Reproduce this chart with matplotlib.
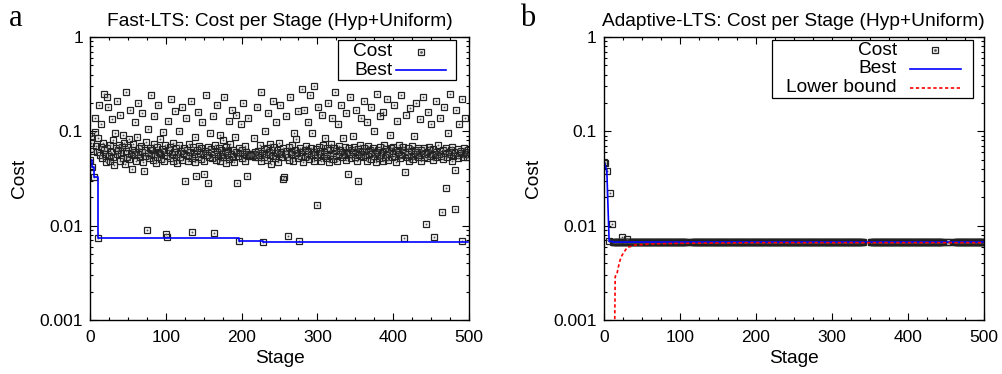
import numpy as np
import matplotlib.pyplot as plt
from matplotlib.patches import Rectangle
from matplotlib.ticker import FixedLocator, LogLocator, NullFormatter, FuncFormatter

plt.rcParams['font.family'] = ['Liberation Sans', 'DejaVu Sans']

# costo per stadio (Fast-LTS), in unita di 1e-3
cost_a_milli = [
    50, 90, 75, 42, 62, 33, 98, 140, 70, 60, 85, 7.4, 190, 56, 68, 120, 52, 75, 250, 64,
    58, 47, 230, 66, 180, 55, 72, 49, 61, 135, 80, 53, 44, 95, 67, 210, 57, 63, 71, 48,
    150, 59, 68, 52, 92, 76, 45, 62, 260, 54, 69, 83, 51, 170, 58, 64, 40, 73, 56, 125,
    61, 49, 88, 57, 200, 66, 53, 70, 60, 155, 47, 38, 64, 55, 78, 9.1, 59, 105, 52, 67,
    240, 56, 63, 50, 74, 145, 58, 46, 69, 54, 190, 61, 57, 82, 51, 65, 98, 60, 48, 72,
    8.1, 7.5, 55, 130, 63, 52, 68, 220, 57, 49, 75, 60, 165, 54, 66, 46, 58, 100, 71, 53,
    62, 180, 50, 59, 67, 30, 56, 140, 64, 48, 73, 55, 61, 210, 8.6, 52, 69, 58, 88, 47,
    34, 63, 54, 160, 70, 57, 51, 66, 125, 59, 35, 48, 62, 240, 56, 28, 68, 53, 95, 60,
    65, 52, 145, 8.4, 58, 72, 50, 61, 190, 55, 67, 49, 92, 63, 57, 80, 54, 230, 60, 46,
    69, 56, 62, 130, 51, 74, 58, 170, 53, 64, 47, 88, 60, 150, 28, 55, 66, 6.8, 59, 120,
    52, 63, 200, 57, 70, 49, 61, 34, 55, 140, 58, 56, 57, 55, 58, 56, 85, 54, 60, 57,
    180, 53, 62, 56, 71, 48, 260, 59, 6.7, 65, 54, 100, 58, 67, 50, 155, 61, 56, 73, 45,
    63, 210, 55, 68, 52, 125, 59, 64, 47, 76, 57, 190, 60, 53, 66, 31, 33, 58, 145, 62,
    54, 7.8, 69, 50, 230, 61, 57, 72, 48, 95, 63, 56, 82, 59, 165, 52, 6.9, 66, 55, 280,
    60, 47, 170, 64, 53, 70, 58, 125, 62, 51, 240, 67, 56, 95, 61, 49, 300, 58, 65, 16.5,
    54, 180, 68, 57, 62, 48, 150, 71, 55, 60, 86, 52, 66, 58, 200, 47, 63, 56, 73, 140,
    59, 51, 67, 260, 55, 62, 48, 120, 70, 57, 64, 190, 53, 60, 85, 56, 68, 50, 155, 61,
    35, 58, 66, 230, 52, 63, 57, 90, 69, 54, 61, 170, 49, 65, 29.6, 58, 72, 55, 140, 60,
    53, 67, 210, 56, 62, 48, 125, 70, 58, 64, 51, 180, 59, 66, 55, 100, 61, 47, 250, 57,
    63, 52, 68, 145, 56, 60, 49, 160, 71, 54, 65, 58, 220, 50, 62, 57, 92, 66, 53, 69,
    59, 190, 55, 64, 47, 130, 61, 57, 72, 52, 240, 63, 56, 68, 7.4, 37, 60, 150, 54, 66,
    58, 49, 175, 62, 55, 70, 51, 89, 64, 57, 200, 60, 53, 67, 56, 135, 48, 63, 59, 230,
    54, 66, 57, 10.5, 61, 52, 160, 68, 55, 63, 120, 58, 50, 65, 7.6, 56, 210, 60, 53, 71,
    57, 62, 140, 55, 14, 64, 51, 180, 59, 66, 25, 53, 96, 60, 57, 250, 63, 48, 68, 55,
    61, 39, 15, 170, 56, 65, 52, 120, 59, 62, 220, 6.9, 54, 67, 57, 140, 60, 53, 64, 58,
]
stage_a = np.arange(len(cost_a_milli))
cost_a = np.array(cost_a_milli) / 1000.0

# Adaptive-LTS: primi stadi, poi plateau (con buchi)
head_stage_b = [0, 1, 4, 7, 8, 11, 24, 30]
head_cost_b_milli = [47, 46, 38, 6.8, 22, 10.5, 7.5, 7.3]
plateau_segments = [(12, 109), (115, 341), (351, 446), (452, 454), (461, 500)]
plateau_cost_milli = 6.7

# lower bound
lb_stage = [14, 15, 17, 19, 21, 23, 25, 27, 29, 31, 35, 40, 50, 60, 80, 100, 150, 200, 300, 400, 500]
lb_milli = [0.5, 2.9, 3.0, 3.6, 4.2, 4.7, 5.0, 5.3, 5.6, 5.9, 6.0, 6.2, 6.3, 6.4, 6.45, 6.5, 6.55, 6.6, 6.6, 6.6, 6.6]

pts = {}
for s, c in zip(head_stage_b, head_cost_b_milli):
    pts[s] = c
for a, b in plateau_segments:
    for s in range(a, b + 1):
        if s not in pts:
            pts[s] = plateau_cost_milli
stage_b = np.array(sorted(pts))
cost_b = np.array([pts[s] for s in stage_b]) / 1000.0

best_a = np.minimum.accumulate(cost_a)
best_b = np.minimum.accumulate(cost_b)

FS = 12.5   # numeri sugli assi
FT = 13.8   # titoli, etichette, legenda
MS = 4.6
fig = plt.figure(figsize=(10.03, 3.74), dpi=100)
ax1 = fig.add_axes([0.0897, 0.1444, 0.378, 0.7567])
ax2 = fig.add_axes([0.602, 0.1444, 0.379, 0.7567])


def points(ax, x, y, **kw):
    ax.plot(x, y, ls='none', marker='s', ms=MS, mfc='none', mec='#222222', mew=0.9, **kw)
    ax.plot(x, y, ls='none', marker='s', ms=0.9, mfc='#555555', mec='#555555', mew=0.3)


def style(ax, title):
    ax.set_yscale('log')
    ax.set_xlim(0, 500)
    ax.set_ylim(0.001, 1)
    ax.xaxis.set_major_locator(FixedLocator([0, 100, 200, 300, 400, 500]))
    ax.xaxis.set_minor_locator(FixedLocator(np.arange(0, 501, 25)))
    ax.yaxis.set_major_locator(LogLocator(base=10, numticks=10))
    ax.yaxis.set_minor_locator(LogLocator(base=10, subs=np.arange(2, 10), numticks=20))
    ax.yaxis.set_minor_formatter(NullFormatter())
    ax.yaxis.set_major_formatter(FuncFormatter(lambda v, p: '%g' % v))
    ax.tick_params(which='both', direction='in', top=True, right=True, labelsize=FS, width=0.8)
    ax.tick_params(which='major', length=5, pad=5)
    ax.tick_params(axis='x', which='major', pad=7)
    ax.tick_params(which='minor', length=2.5)
    for sp in ax.spines.values():
        sp.set_linewidth(1.0)
    ax.set_xlabel('Stage', fontsize=FT, labelpad=4)
    ax.set_ylabel('Cost', fontsize=FT, labelpad=8)
    ax.set_title(title, fontsize=FT, pad=8)


def legend(ax, box, text_x, rows, line_x, marker_x):
    x0, y0, x1, y1 = box
    ax.add_patch(Rectangle((x0, y0), x1 - x0, y1 - y0, transform=ax.transAxes,
                           fill=True, fc='white', ec='black', lw=0.9, zorder=5))
    for (label, kind), yy in rows:
        ax.text(text_x, yy, label, transform=ax.transAxes, ha='right', va='center',
                fontsize=FT, zorder=6)
        if kind == 'pt':
            ax.plot([marker_x], [yy], transform=ax.transAxes, marker='s', ms=MS, mfc='none',
                    mec='#222222', mew=0.9, zorder=6, clip_on=False)
            ax.plot([marker_x], [yy], transform=ax.transAxes, marker='s', ms=0.9, mfc='#555555',
                    mec='#555555', zorder=6, clip_on=False)
        elif kind == 'blue':
            ax.plot(line_x, [yy, yy], transform=ax.transAxes, color='#0000ff', lw=1.2, zorder=6)
        else:
            ax.plot(line_x, [yy, yy], transform=ax.transAxes, color='#ff0000', lw=1.2,
                    ls=(0, (2, 1.5)), zorder=6)


# pannello a
style(ax1, 'Fast-LTS: Cost per Stage (Hyp+Uniform)')
points(ax1, stage_a, cost_a)
ax1.plot(stage_a, best_a, color='#0000ff', lw=1.2, drawstyle='steps-post')
legend(ax1, (0.654, 0.848, 0.966, 0.989), 0.797,
       [(('Cost', 'pt'), 0.947), (('Best', 'blue'), 0.883)],
       [0.807, 0.939], 0.873)

# pannello b
style(ax2, 'Adaptive-LTS: Cost per Stage (Hyp+Uniform)')
points(ax2, stage_b, cost_b)
ax2.plot(stage_b, best_b, color='#0000ff', lw=1.2)
ax2.plot(lb_stage, np.array(lb_milli) / 1000.0, color='#ff0000', lw=1.2, ls=(0, (2, 1.5)))
legend(ax2, (0.442, 0.784, 0.971, 0.989), 0.771,
       [(('Cost', 'pt'), 0.954), (('Best', 'blue'), 0.887), (('Lower bound', 'red'), 0.820)],
       [0.805, 0.939], 0.871)

fig.text(0.0155, 0.95, 'a', family=['Liberation Serif', 'DejaVu Serif'], fontsize=22,
         ha='center', va='center')
fig.text(0.526, 0.95, 'b', family=['Liberation Serif', 'DejaVu Serif'], fontsize=22,
         ha='center', va='center')

fig.savefig('out.png', dpi=100)
